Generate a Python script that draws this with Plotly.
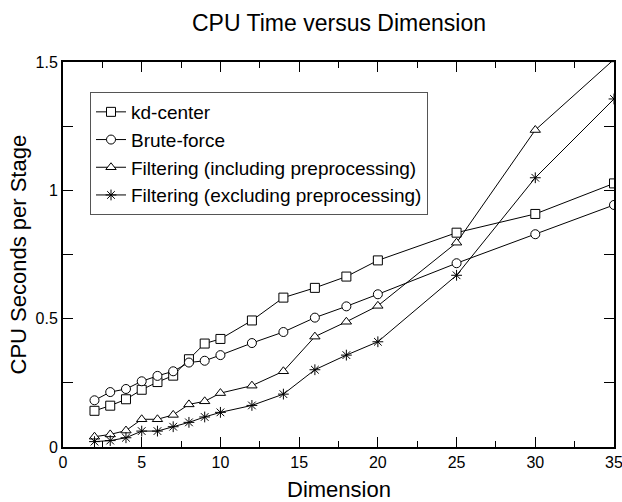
import plotly.graph_objects as go

dims = [2, 3, 4, 5, 6, 7, 8, 9, 10, 12, 14, 16, 18, 20, 25, 30, 35]

kd_center = [0.141, 0.161, 0.186, 0.223, 0.253, 0.278, 0.342, 0.403, 0.421,
             0.493, 0.582, 0.620, 0.664, 0.727, 0.835, 0.908, 1.027]
brute_force = [0.182, 0.214, 0.226, 0.256, 0.277, 0.295, 0.329, 0.336, 0.358,
               0.405, 0.448, 0.504, 0.548, 0.595, 0.716, 0.829, 0.943]
filter_incl = [0.040, 0.049, 0.064, 0.108, 0.108, 0.125, 0.166, 0.178, 0.210,
               0.239, 0.295, 0.430, 0.488, 0.550, 0.796, 1.235, 1.51]
filter_excl = [0.021, 0.025, 0.036, 0.062, 0.062, 0.079, 0.096, 0.117, 0.135,
               0.162, 0.206, 0.301, 0.358, 0.410, 0.669, 1.049, 1.356]

series_names = ["kd-center", "Brute-force",
                "Filtering (including preprocessing)",
                "Filtering (excluding preprocessing)"]
series_values = [kd_center, brute_force, filter_incl, filter_excl]
symbols = ["square", "circle", "triangle-up", "asterisk-open"]

FONT = "Liberation Sans, Arial, Helvetica, sans-serif"

fig = go.Figure()
for name, vals, sym in zip(series_names, series_values, symbols):
    if sym == "asterisk-open":
        marker = dict(symbol=sym, size=9, color="black",
                      line=dict(color="black", width=1))
    else:
        marker = dict(symbol=sym, size=9, color="white",
                      line=dict(color="black", width=1))
    fig.add_trace(go.Scatter(
        x=dims, y=vals, name=name, mode="lines+markers",
        line=dict(color="black", width=1), marker=marker,
        cliponaxis=True,
    ))

axis_common = dict(
    showgrid=False, zeroline=False, showline=True, linecolor="black",
    linewidth=2, mirror="allticks", ticks="inside", tickcolor="black",
    tickwidth=1, ticklen=10, automargin=False, ticklabeloverflow="allow",
    tickfont=dict(family=FONT, size=16, color="black"),
)

fig.update_xaxes(range=[0, 35], dtick=5, tick0=0,
                 minor=dict(dtick=2.5, ticks="inside", ticklen=6,
                            tickcolor="black", tickwidth=1),
                 **axis_common)
fig.update_yaxes(range=[0, 1.5], dtick=0.5, tick0=0,
                 tickformat="~g",
                 minor=dict(dtick=0.25, ticks="inside", ticklen=10,
                            tickcolor="black", tickwidth=1),
                 **axis_common)

fig.update_layout(
    width=622, height=502,
    margin=dict(l=63, r=8, t=62, b=55),
    paper_bgcolor="white", plot_bgcolor="white",
    font=dict(family=FONT, color="black"),
    showlegend=True,
    legend=dict(
        x=(90 - 63) / 551, y=(447 - 92) / 385, xanchor="left", yanchor="top",
        bgcolor="white", bordercolor="#555", borderwidth=1,
        font=dict(family=FONT, size=19, color="black"),
        itemwidth=30, tracegroupgap=0,
    ),
    annotations=[
        dict(text="CPU Time versus Dimension", xref="paper", yref="paper",
             x=0.5, y=(447 - 23) / 385, xanchor="center",
             yanchor="middle", showarrow=False,
             font=dict(family=FONT, size=23, color="black")),
        dict(text="Dimension", xref="paper", yref="paper",
             x=0.5, y=(447 - 489) / 385, xanchor="center",
             yanchor="middle", showarrow=False,
             font=dict(family=FONT, size=22, color="black")),
        dict(text="CPU Seconds per Stage", xref="paper", yref="paper",
             x=(18 - 63) / 551, y=0.5, xanchor="center",
             yanchor="middle", showarrow=False, textangle=-90,
             font=dict(family=FONT, size=22, color="black")),
    ],
)

fig.write_html("out.html", config={"displayModeBar": False},
               post_script="document.body.style.margin='0';"
                           "document.body.style.padding='0';")
